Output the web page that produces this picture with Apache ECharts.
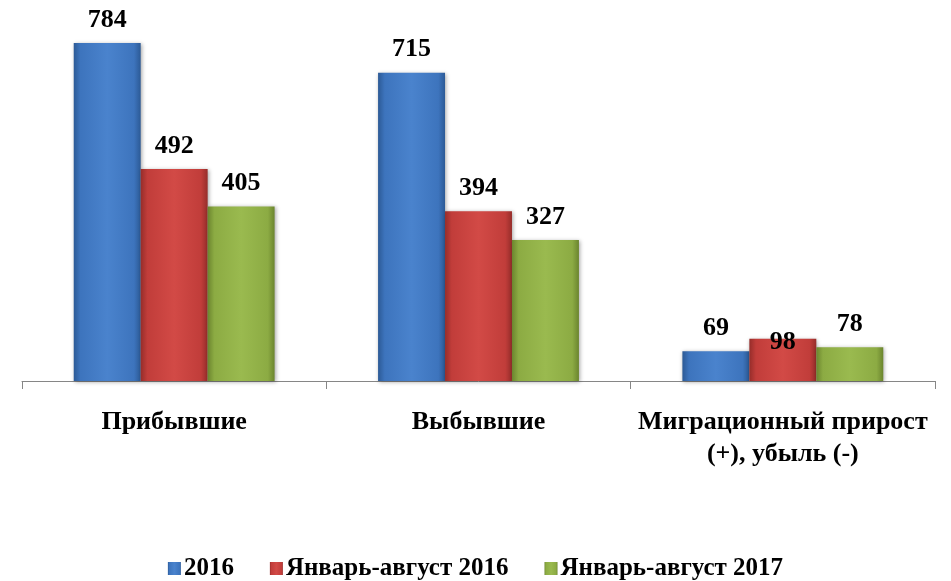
<!DOCTYPE html>
<html>
<head>
<meta charset="utf-8">
<script src="https://cdn.jsdelivr.net/npm/echarts@6/dist/echarts.min.js"></script>
<style>
  html, body { margin: 0; padding: 0; background: #fff; }
  #chart { width: 951px; height: 581px; }
</style>
</head>
<body>
<div id="chart"></div>
<script>
var categories = ['Прибывшие', 'Выбывшие', 'Миграционный прирост\n(+), убыль (-)'];
var seriesNames = ['2016', 'Январь-август 2016', 'Январь-август 2017'];
var values2016 = [784, 715, 69];
var valuesJanAug2016 = [492, 394, 98];
var valuesJanAug2017 = [405, 327, 78];

var fontFam = '"Liberation Serif", "Times New Roman", serif';

function bevel(dark, mid, light) {
    return new echarts.graphic.LinearGradient(0, 0, 1, 0, [
        { offset: 0, color: dark },
        { offset: 0.1, color: mid },
        { offset: 0.5, color: light },
        { offset: 0.9, color: mid },
        { offset: 1, color: dark }
    ]);
}

var palette = [
    bevel('#2c5a96', '#3d74bd', '#4a83cd'),
    bevel('#962d2a', '#c13d3a', '#d24a46'),
    bevel('#6b852e', '#8cab43', '#9aba4f')
];

function makeSeries(i, data) {
    return {
        name: seriesNames[i],
        type: 'bar',
        barWidth: '22%',
        barGap: '0%',
        data: data.map(function (v, j) {
            var item = { value: v };
            // в оригинале подпись 98 наезжает на столбец
            if (i === 1 && j === 2) {
                item.label = { offset: [0, 27] };
            }
            return item;
        }),
        itemStyle: {
            color: palette[i],
            shadowColor: 'rgba(0,0,0,0.35)',
            shadowBlur: 4,
            shadowOffsetX: 1,
            shadowOffsetY: 1
        },
        label: {
            show: true,
            position: 'top',
            distance: 10,
            color: '#000',
            fontFamily: fontFam,
            fontWeight: 'bold',
            fontSize: 26
        }
    };
}

var myChart = echarts.init(document.getElementById('chart'));

var option = {
    animation: false,
    grid: {
        left: 22,
        right: 16,
        top: 43,
        bottom: 200,
        containLabel: false
    },
    legend: {
        data: seriesNames,
        top: 551,
        left: 'center',
        icon: 'rect',
        itemWidth: 13,
        itemHeight: 13,
        itemGap: 36,
        textStyle: {
            fontFamily: fontFam,
            fontWeight: 'bold',
            fontSize: 25,
            color: '#000',
            padding: [0, 0, 0, -2]
        }
    },
    xAxis: {
        type: 'category',
        data: categories,
        axisLine: { lineStyle: { color: '#868686', width: 1 } },
        axisTick: {
            show: true,
            length: 8,
            lineStyle: { color: '#868686' }
        },
        axisLabel: {
            interval: 0,
            margin: 25,
            color: '#000',
            fontFamily: fontFam,
            fontWeight: 'bold',
            fontSize: 26,
            lineHeight: 32
        }
    },
    yAxis: {
        type: 'value',
        min: 0,
        max: 784,
        show: false,
        splitLine: { show: false }
    },
    series: [
        makeSeries(0, values2016),
        makeSeries(1, valuesJanAug2016),
        makeSeries(2, valuesJanAug2017)
    ]
};

myChart.setOption(option);
</script>
</body>
</html>
